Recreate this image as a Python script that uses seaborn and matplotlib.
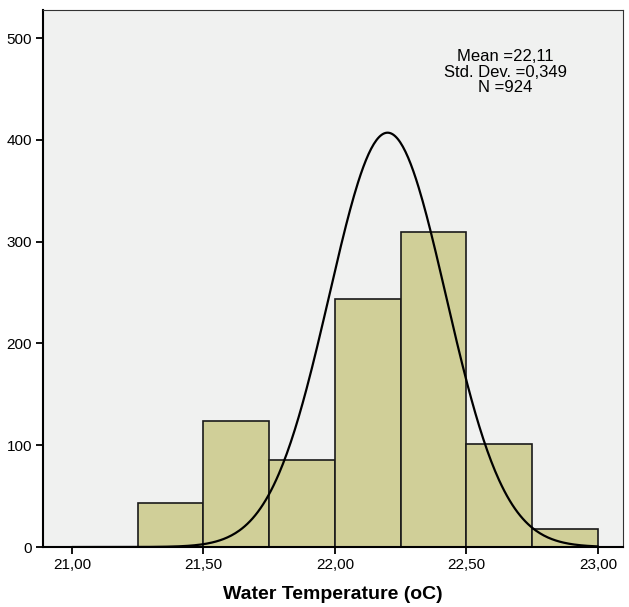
import numpy as np
import pandas as pd
import matplotlib
matplotlib.use("Agg")
import matplotlib.pyplot as plt
import seaborn as sns

bin_edges = [21.25, 21.50, 21.75, 22.00, 22.25, 22.50, 22.75, 23.00]
counts = [43, 124, 85, 244, 309, 101, 18]
curve_mean = 22.20
curve_sd = 0.222
curve_peak = 407
xticks = [21.0, 21.5, 22.0, 22.5, 23.0]
xtick_labels = ["21,00", "21,50", "22,00", "22,50", "23,00"]
yticks = [0, 100, 200, 300, 400, 500]
stats_text = "Mean =22,11\nStd. Dev. =0,349\nN =924"

sns.set_style("white")
plt.rcParams['font.family'] = ['Liberation Sans', 'DejaVu Sans']
plt.rcParams['text.color'] = 'black'
plt.rcParams['axes.labelcolor'] = 'black'
plt.rcParams['xtick.color'] = 'black'
plt.rcParams['ytick.color'] = 'black'

centers = [(a + b) / 2 for a, b in zip(bin_edges[:-1], bin_edges[1:])]
df = pd.DataFrame({"temp": centers, "count": counts})

fig = plt.figure(figsize=(6.29, 6.07), dpi=100)
ax = fig.add_axes([0.0684, 0.0988, 0.922, 0.8847])
ax.set_facecolor("#F0F1F0")

sns.histplot(data=df, x="temp", weights="count", bins=bin_edges, ax=ax,
             color="#D0CF98", alpha=1, edgecolor="#1a1a1a", linewidth=1.2)

xs = np.linspace(21.0, 23.0, 400)
ys = curve_peak * np.exp(-0.5 * ((xs - curve_mean) / curve_sd) ** 2)
sns.lineplot(x=xs, y=ys, ax=ax, color="black", linewidth=1.6)

ax.set_xlim(20.89, 23.095)
ax.set_ylim(0, 527.5)
ax.set_xticks(xticks)
ax.set_xticklabels(xtick_labels, fontsize=11)
ax.set_yticks(yticks)
ax.set_yticklabels([str(v) for v in yticks], fontsize=11)
ax.tick_params(axis="both", direction="out", length=5, width=1.3, color="black",
               labelcolor="black", bottom=True, left=True, pad=3)
ax.set_xlabel("Water Temperature (oC)", fontsize=14, fontweight="bold", labelpad=10, color="black")
ax.set_ylabel("")

for side in ["left", "bottom"]:
    ax.spines[side].set_color("black")
    ax.spines[side].set_linewidth(1.5)
for side in ["top", "right"]:
    ax.spines[side].set_color("#333333")
    ax.spines[side].set_linewidth(0.8)

ax.text(0.797, 0.927, stats_text, transform=ax.transAxes, ha="center", va="top",
        fontsize=12, linespacing=1.05, color="black")

fig.savefig("out.png", dpi=100)
